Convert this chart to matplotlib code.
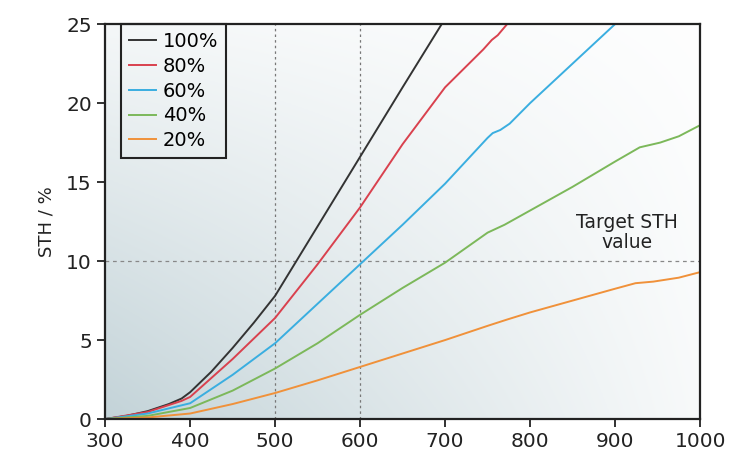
import numpy as np
import matplotlib
matplotlib.use('Agg')
import matplotlib.pyplot as plt
from matplotlib.colors import to_rgb

plt.rcParams['font.family'] = ['DejaVu Sans']

# STH efficiency curves vs wavelength cut-off, one per fraction
x_100 = [300, 325, 350, 375, 390, 400, 425, 450, 475, 500, 550, 600, 650, 696]
y_100 = [0, 0.2, 0.5, 0.95, 1.3, 1.7, 3.0, 4.5, 6.1, 7.8, 12.2, 16.6, 21.0, 25.0]

x_80 = [300, 350, 390, 400, 450, 500, 550, 600, 650, 700, 745, 755, 762, 773]
y_80 = [0, 0.45, 1.15, 1.4, 3.8, 6.4, 9.8, 13.4, 17.4, 21.0, 23.4, 24.0, 24.3, 25.0]

x_60 = [300, 350, 400, 450, 500, 550, 600, 650, 700, 750, 756, 765, 776, 800, 850, 900]
y_60 = [0, 0.35, 1.0, 2.8, 4.8, 7.3, 9.8, 12.3, 14.9, 17.8, 18.1, 18.3, 18.7, 20.0, 22.5, 25.0]

x_40 = [300, 350, 400, 450, 500, 550, 600, 650, 700, 750, 760, 770, 800, 850, 900, 929, 953, 975, 1000]
y_40 = [0, 0.2, 0.7, 1.8, 3.2, 4.8, 6.6, 8.3, 9.9, 11.8, 12.05, 12.3, 13.2, 14.7, 16.3, 17.2, 17.5, 17.9, 18.6]

x_20 = [300, 350, 400, 450, 500, 550, 600, 650, 700, 750, 773, 800, 850, 900, 924, 945, 975, 1000]
y_20 = [0, 0.1, 0.35, 0.95, 1.65, 2.45, 3.3, 4.15, 5.0, 5.9, 6.3, 6.75, 7.5, 8.25, 8.6, 8.7, 8.95, 9.3]

labels = ['100%', '80%', '60%', '40%', '20%']
colors = ['#333333', '#d9414e', '#3aaee0', '#7cb85a', '#f0913a']

target = 10
guides_x = [500, 600]

fig, ax = plt.subplots(figsize=(7.3, 4.55), dpi=100)
fig.subplots_adjust(left=0.144, right=0.959, top=0.947, bottom=0.079)

# shaded background, dark in the lower left fading to white
u, v = np.meshgrid(np.linspace(0, 1, 300), np.linspace(0, 1, 200))
w = (1 - 0.88 * u) * (1 - 0.82 * v)
dark = np.array(to_rgb('#c3d3d8'))
img = 1 - w[..., None] * (1 - dark)
ax.imshow(img, extent=[300, 1000, 0, 25], origin='lower', aspect='auto', zorder=0)

for xv in guides_x:
    ax.axvline(xv, color='#777777', ls=(0, (2, 2.5)), lw=0.9, zorder=1)
ax.axhline(target, color='#888888', ls=(0, (3, 3)), lw=0.9, zorder=1)

for xs, ys, lab, c in zip([x_100, x_80, x_60, x_40, x_20],
                          [y_100, y_80, y_60, y_40, y_20], labels, colors):
    ax.plot(xs, ys, color=c, lw=1.4, label=lab, zorder=2)

ax.text(914, 11.8, 'Target STH\nvalue', ha='center', va='center',
        fontsize=13.5, color='#222222', linespacing=1.1)

ax.set_xlim(300, 1000)
ax.set_ylim(0, 25)
ax.set_xticks(range(300, 1001, 100))
ax.set_yticks(range(0, 26, 5))
ax.tick_params(direction='out', length=6, width=1.3, labelsize=14.5, colors='#222222')
for s in ax.spines.values():
    s.set_linewidth(1.6)
    s.set_color('#222222')
ax.set_ylabel('STH / %', fontsize=13, color='#222222', labelpad=8)

leg = ax.legend(loc='upper left', bbox_to_anchor=(0.027, 1.0), borderaxespad=0,
                fontsize=14, handlelength=1.4, handletextpad=0.35, borderpad=0.4,
                labelspacing=0.3, fancybox=False, framealpha=1)
leg.get_frame().set_facecolor('none')
leg.get_frame().set_edgecolor('#222222')
leg.get_frame().set_linewidth(1.5)

plt.savefig('out.png', dpi=100)
plt.close()
